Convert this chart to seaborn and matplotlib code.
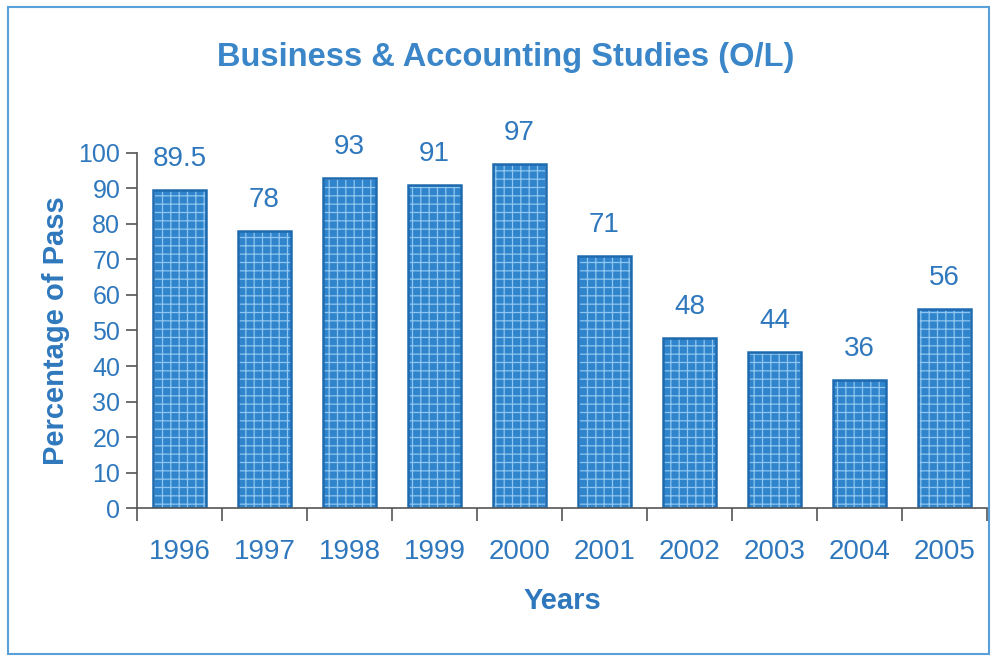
import matplotlib
matplotlib.use("Agg")
import matplotlib.pyplot as plt
import seaborn as sns
import pandas as pd
import numpy as np

years = ["1996", "1997", "1998", "1999", "2000", "2001", "2002", "2003", "2004", "2005"]
pass_pct = [89.5, 78, 93, 91, 97, 71, 48, 44, 36, 56]
labels = ["89.5", "78", "93", "91", "97", "71", "48", "44", "36", "56"]

data = pd.DataFrame({"year": years, "pct": pass_pct})

sns.set_theme(style="white")
plt.rcParams["font.family"] = ["Liberation Sans", "DejaVu Sans"]
plt.rcParams["hatch.linewidth"] = 0.9

txt = "#2f78bd"
bar_col = "#2f84cc"

fig = plt.figure(figsize=(9.97, 6.59), dpi=100)
ax = fig.add_axes([0.1374, 0.229, 0.8526, 0.539])

# hatched fill, then outline on top
sns.barplot(data=data, x="year", y="pct", color=bar_col, edgecolor="#8fc6ef",
            hatch="++", linewidth=0, width=0.62, saturation=1, ax=ax)
sns.barplot(data=data, x="year", y="pct", color="#1f6aae", fill=False,
            linewidth=1.8, width=0.62, ax=ax)

for i, (v, s) in enumerate(zip(pass_pct, labels)):
    ax.text(i, v + 5, s, ha="center", va="bottom", color=txt, fontsize=20)

ax.set_xlim(-0.5, 9.5)
ax.set_ylim(0, 100)
ax.set_yticks(range(0, 101, 10))
ax.set_xticks(np.arange(-0.5, 10, 1), minor=True)
ax.tick_params(axis="x", which="major", length=0, pad=22, labelsize=20, labelcolor=txt)
ax.tick_params(axis="x", which="minor", bottom=True, length=9, width=1.2,
               color="#555555", direction="out")
ax.tick_params(axis="y", length=8, width=1.2, color="#555555", direction="out",
               left=True, pad=4, labelsize=18, labelcolor=txt)

for side in ["top", "right"]:
    ax.spines[side].set_visible(False)
for side in ["left", "bottom"]:
    ax.spines[side].set_color("#555555")
    ax.spines[side].set_linewidth(1.2)

ax.set_xlabel("Years", fontsize=21, fontweight="bold", color=txt, labelpad=16)
ax.set_ylabel("Percentage of Pass", fontsize=21, fontweight="bold", color=txt, labelpad=6)
fig.text(0.507, 0.912, "Business & Accounting Studies (O/L)", ha="center", va="center",
         fontsize=23.5, fontweight="bold", color="#3a86c8")

# page frame
fig.patches.append(plt.Rectangle((0.008, 0.008), 0.984, 0.982, transform=fig.transFigure,
                                 fill=False, edgecolor="#5aa0d8", linewidth=1.5))

fig.savefig("out.png", dpi=100)
